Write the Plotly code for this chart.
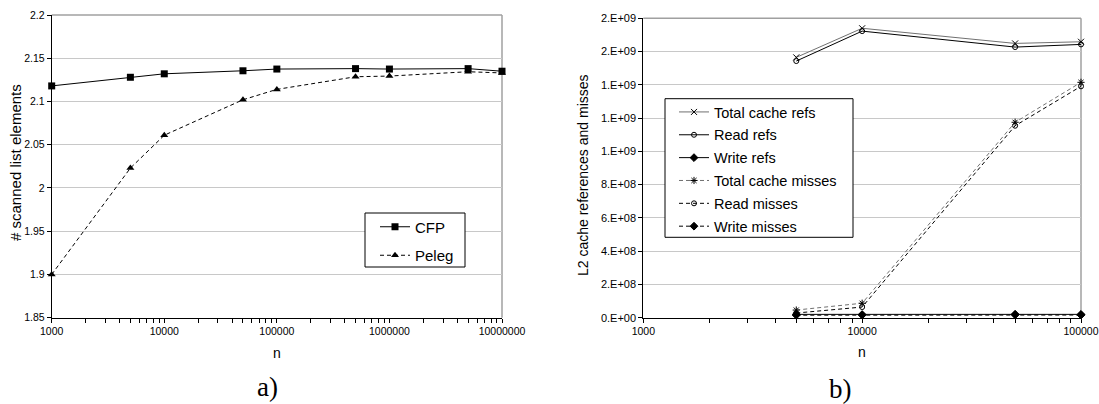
import plotly.graph_objects as go

# ---------------- data ----------------
n_a = [1000, 5000, 10000, 50000, 100000, 500000, 1000000, 5000000, 10000000]
cfp = [2.118, 2.128, 2.132, 2.1355, 2.1375, 2.138, 2.1375, 2.138, 2.135]
peleg = [1.900, 2.023, 2.061, 2.102, 2.114, 2.1286, 2.1294, 2.1344, 2.133]

n_b = [5000, 10000, 50000, 100000]
total_refs = [1.565e9, 1.740e9, 1.649e9, 1.659e9]
read_refs = [1.543e9, 1.723e9, 1.627e9, 1.643e9]
write_refs = [2.0e7, 1.9e7, 2.1e7, 2.0e7]
total_misses = [4.6e7, 8.7e7, 1.175e9, 1.415e9]
read_misses = [2.8e7, 6.4e7, 1.154e9, 1.391e9]
write_misses = [1.5e7, 1.6e7, 1.7e7, 1.6e7]

ya_ticks = [1.85, 1.9, 1.95, 2.0, 2.05, 2.1, 2.15, 2.2]
ya_text = ["1.85", "1.9", "1.95", "2", "2.05", "2.1", "2.15", "2.2"]
xa_ticks = [1000, 10000, 100000, 1000000, 10000000]
xa_text = ["1000", "10000", "100000", "1000000", "10000000"]
yb_ticks = [0, 2e8, 4e8, 6e8, 8e8, 1.0e9, 1.2e9, 1.4e9, 1.6e9, 1.8e9]
yb_text = ["0.E+00", "2.E+08", "4.E+08", "6.E+08", "8.E+08",
           "1.E+09", "1.E+09", "1.E+09", "2.E+09", "2.E+09"]
xb_ticks = [1000, 10000, 100000]
xb_text = ["1000", "10000", "100000"]

W, H = 1099, 404
FONT = "Liberation Sans, Arial, sans-serif"
SERIF = "Liberation Serif, Times New Roman, serif"


def with_minor(major, labels):
    """Add unlabeled 2..9 log sub-ticks between consecutive major ticks."""
    vals, txt = [], []
    for i, m in enumerate(major):
        vals.append(m)
        txt.append(labels[i])
        if i < len(major) - 1:
            for k in range(2, 10):
                vals.append(m * k)
                txt.append("")
    return vals, txt


fig = go.Figure()

# ---- chart a ----
fig.add_trace(go.Scatter(x=n_a, y=cfp, name="CFP", mode="lines+markers",
                         line=dict(color="black", width=1),
                         marker=dict(symbol="square", size=7, color="black"),
                         xaxis="x", yaxis="y", legend="legend", legendgroup="a1",
                         cliponaxis=False))
fig.add_trace(go.Scatter(x=n_a, y=peleg, name="Peleg", mode="lines+markers",
                         line=dict(color="black", width=1, dash="4px,3px"),
                         marker=dict(symbol="triangle-up", size=7, color="black"),
                         xaxis="x", yaxis="y", legend="legend", legendgroup="a2",
                         cliponaxis=False))

# ---- chart b ----
series_b = [
    ("Total cache refs", total_refs, "#707070", "solid", "x-thin-open", 6),
    ("Read refs", read_refs, "black", "solid", "circle-open", 5),
    ("Write refs", write_refs, "black", "solid", "diamond", 6),
    ("Total cache misses", total_misses, "#707070", "4px,3px", "asterisk-open", 6),
    ("Read misses", read_misses, "black", "4px,3px", "circle-open", 5),
    ("Write misses", write_misses, "black", "4px,3px", "diamond", 6),
]
for i, (nm, ys, col, dash, sym, sz) in enumerate(series_b):
    fig.add_trace(go.Scatter(x=n_b, y=ys, name=nm, mode="lines+markers",
                             line=dict(color=col, width=1, dash=dash),
                             marker=dict(symbol=sym, size=sz, color="black",
                                         line=dict(color="black", width=1)),
                             xaxis="x2", yaxis="y2", legend="legend2",
                             legendgroup="b%d" % i, cliponaxis=False))

# plot area geometry (pixels)
a_l, a_r, a_t, a_b = 51.7, 502.0, 15.0, 317.7
b_l, b_r, b_t, b_b = 643.3, 1081.0, 18.3, 317.7


def px_x(v):
    return v / W


def px_y(v):
    return 1 - v / H


tickfont = dict(family=FONT, size=10.5, color="black")
common_x = dict(type="log", showline=True, linecolor="black", linewidth=1,
                ticks="outside", ticklen=4, tickcolor="black", showgrid=False,
                zeroline=False, tickfont=tickfont, automargin=False, tickangle=0)
common_y = dict(showline=True, linecolor="black", linewidth=1, ticks="outside",
                ticklen=4, tickcolor="black", showgrid=True, gridcolor="#c8c8c8",
                gridwidth=1, zeroline=False, automargin=False)

xa_v, xa_t = with_minor(xa_ticks, xa_text)
xb_v, xb_t = with_minor(xb_ticks, xb_text)
EPS = 1e-5

fig.update_layout(
    width=W, height=H, margin=dict(l=0, r=0, t=0, b=0, autoexpand=False),
    paper_bgcolor="white", plot_bgcolor="white",
    font=dict(family=FONT, color="black"),
    xaxis=dict(domain=[px_x(a_l), px_x(a_r)], range=[3 - EPS, 7 + EPS], anchor="y",
               tickmode="array", tickvals=xa_v, ticktext=xa_t, **common_x),
    yaxis=dict(domain=[px_y(a_b), px_y(a_t)], range=[1.85, 2.2], anchor="x",
               tickmode="array", tickvals=ya_ticks, ticktext=ya_text,
               tickfont=dict(family=FONT, size=10.5, color="black"), **common_y),
    xaxis2=dict(domain=[px_x(b_l), px_x(b_r)], range=[3 - EPS, 5 + EPS], anchor="y2",
                tickmode="array", tickvals=xb_v, ticktext=xb_t, **common_x),
    yaxis2=dict(domain=[px_y(b_b), px_y(b_t)], range=[0, 1.8e9], anchor="x2",
                tickmode="array", tickvals=yb_ticks, ticktext=yb_text,
                tickfont=dict(family=FONT, size=11, color="black"), **common_y),
    legend=dict(x=px_x(375), y=px_y(210.5), xanchor="left", yanchor="top",
                bgcolor="rgba(0,0,0,0)", borderwidth=0,
                font=dict(family=FONT, size=15, color="black"),
                tracegroupgap=6, traceorder="grouped", itemwidth=30),
    legend2=dict(x=px_x(674), y=px_y(96), xanchor="left", yanchor="top",
                 bgcolor="rgba(0,0,0,0)", borderwidth=0,
                 font=dict(family=FONT, size=14.5, color="black"),
                 tracegroupgap=1, traceorder="grouped", itemwidth=30),
    showlegend=True,
)

shapes = []
for (l, r, t, b) in [(a_l, a_r, a_t, a_b), (b_l, b_r, b_t, b_b)]:
    shapes.append(dict(type="line", xref="paper", yref="paper",
                       x0=px_x(l), x1=px_x(r), y0=px_y(t), y1=px_y(t),
                       line=dict(color="#a0a0a0", width=1.5), layer="below"))
    shapes.append(dict(type="line", xref="paper", yref="paper",
                       x0=px_x(r), x1=px_x(r), y0=px_y(t), y1=px_y(b),
                       line=dict(color="#a0a0a0", width=1.5), layer="below"))
# legend boxes (white filled, black border)
for (l, r, t, b) in [(365, 465, 213, 267), (665, 853, 98.7, 237.3)]:
    shapes.append(dict(type="rect", xref="paper", yref="paper",
                       x0=px_x(l), x1=px_x(r), y0=px_y(b), y1=px_y(t),
                       fillcolor="white", line=dict(color="black", width=1),
                       layer="above"))
fig.update_layout(shapes=shapes)

ann = [
    dict(text="# scanned list elements", x=px_x(15), y=px_y(163),
         textangle=-90, font=dict(family=FONT, size=15)),
    dict(text="n", x=px_x((a_l + a_r) / 2), y=px_y(353), font=dict(family=FONT, size=14)),
    dict(text="L2 cache references and misses", x=px_x(583), y=px_y(175),
         textangle=-90, font=dict(family=FONT, size=14)),
    dict(text="n", x=px_x((b_l + b_r) / 2), y=px_y(352), font=dict(family=FONT, size=14)),
    dict(text="a)", x=px_x(267), y=px_y(387), font=dict(family=SERIF, size=27)),
    dict(text="b)", x=px_x(840), y=px_y(389), font=dict(family=SERIF, size=27)),
]
for a in ann:
    a.update(xref="paper", yref="paper", showarrow=False, xanchor="center", yanchor="middle")
fig.update_layout(annotations=ann)

fig.write_html("out.html")
